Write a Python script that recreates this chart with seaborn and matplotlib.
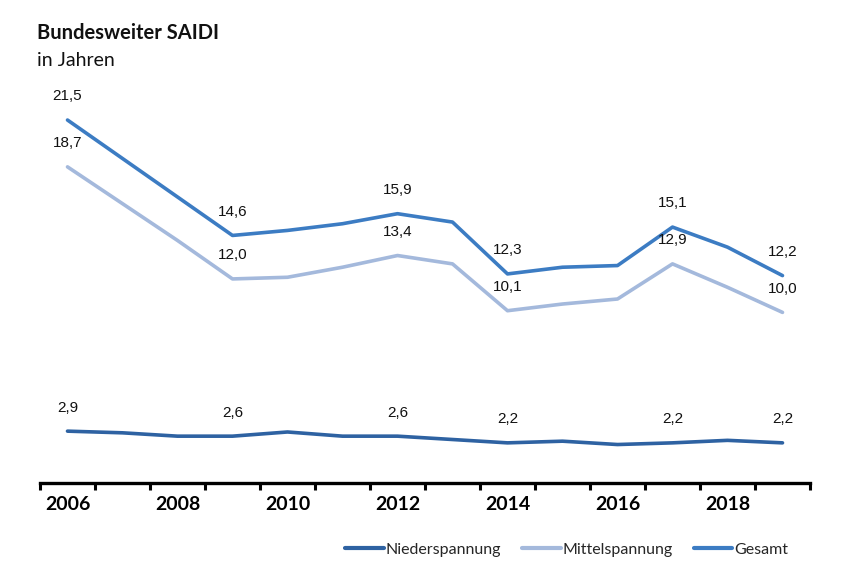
import matplotlib
matplotlib.use("Agg")
import matplotlib.pyplot as plt
import numpy as np
import pandas as pd
import seaborn as sns

years = list(range(2006, 2020))
gesamt = [21.5, 19.2, 16.9, 14.6, 14.9, 15.3, 15.9, 15.4, 12.3, 12.7, 12.8, 15.1, 13.9, 12.2]
mittel = [18.7, 16.5, 14.3, 12.0, 12.1, 12.7, 13.4, 12.9, 10.1, 10.5, 10.8, 12.9, 11.5, 10.0]
nieder = [2.9, 2.8, 2.6, 2.6, 2.85, 2.6, 2.6, 2.4, 2.2, 2.3, 2.1, 2.2, 2.35, 2.2]
label_years = [2006, 2009, 2012, 2014, 2017, 2019]
tick_years = [2006, 2008, 2010, 2012, 2014, 2016, 2018]

series_names = ["Niederspannung", "Mittelspannung", "Gesamt"]
colors = {"Niederspannung": "#2e62a2", "Mittelspannung": "#a4b9dc", "Gesamt": "#3c7cc3"}


def fmt(v):
    return f"{v:.1f}".replace(".", ",")


def main():
    df = pd.DataFrame({
        "Jahr": years * 3,
        "SAIDI": nieder + mittel + gesamt,
        "Reihe": ["Niederspannung"] * len(years) + ["Mittelspannung"] * len(years) + ["Gesamt"] * len(years),
    })

    sns.set_theme(style="white")
    plt.rcParams["font.family"] = ["Lato", "DejaVu Sans"]

    fig = plt.figure(figsize=(8.44, 5.82), dpi=100)
    ax = fig.add_axes([40 / 844, 1 - 483 / 582, 770 / 844, (483 - 85) / 582])

    sns.lineplot(data=df, x="Jahr", y="SAIDI", hue="Reihe", hue_order=series_names,
                 palette=colors, linewidth=2.6, ax=ax, legend=False)

    ax.set_xlim(2005.5, 2019.5)
    ax.set_ylim(-0.2, (479.5 - 85) / 16.72)

    # value labels
    for vals in (gesamt, mittel, nieder):
        for y in label_years:
            v = vals[years.index(y)]
            ax.annotate(fmt(v), (y, v), xytext=(0, 17), textcoords="offset points",
                        ha="center", va="center", fontsize=11,
                        family=["Liberation Sans", "DejaVu Sans"], color="#111111")

    for s in ["left", "right", "top"]:
        ax.spines[s].set_visible(False)
    ax.spines["bottom"].set_linewidth(2.4)
    ax.spines["bottom"].set_color("black")
    ax.set_yticks([])
    ax.set_xticks(tick_years)
    ax.set_xticklabels([str(y) for y in tick_years], fontweight="bold", fontsize=14)
    ax.set_xticks(np.arange(2005.5, 2020.0, 1.0), minor=True)
    ax.tick_params(axis="x", which="major", length=0, pad=9, colors="black")
    ax.tick_params(axis="x", which="minor", bottom=True, length=5, width=2.2, color="black")
    ax.set_xlabel("")
    ax.set_ylabel("")
    ax.grid(False)

    fig.text(37 / 844, 1 - 33 / 582, "Bundesweiter SAIDI", fontsize=14.5, fontweight="bold",
             va="center", ha="left", color="#111111")
    fig.text(37 / 844, 1 - 60 / 582, "in Jahren", fontsize=14, va="center", ha="left",
             color="#111111")

    handles = [plt.Line2D([], [], color=colors[n], linewidth=3) for n in series_names]
    fig.legend(handles, series_names, loc="center", bbox_to_anchor=(567 / 844, 1 - 550 / 582),
               ncol=3, frameon=False, fontsize=11.5, handlelength=2.4, handletextpad=0.15,
               columnspacing=1.3)

    fig.savefig("out.png", dpi=100)


if __name__ == "__main__":
    main()
